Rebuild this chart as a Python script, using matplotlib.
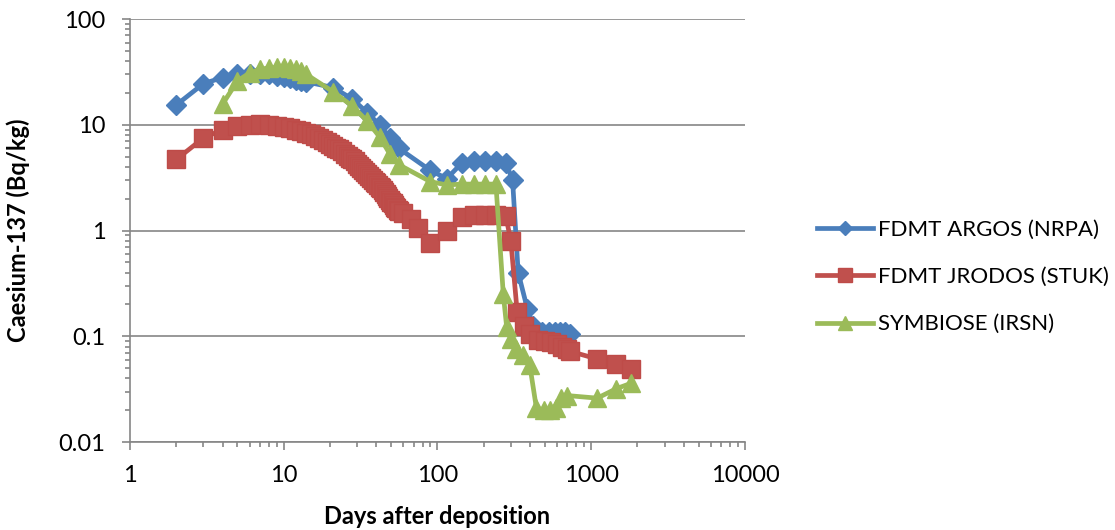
import matplotlib.pyplot as plt
from matplotlib.ticker import LogLocator, NullFormatter, FixedLocator, FixedFormatter

plt.rcParams['font.family'] = ['Lato', 'DejaVu Sans']

# FDMT ARGOS (NRPA)
argos_days = [2, 3, 4, 5, 6, 7, 8, 9, 10, 11, 12, 13, 14, 21, 28, 35, 42, 49, 56,
              90, 115, 145, 172, 204, 240, 278, 308, 335, 385, 420, 480, 530, 580,
              630, 680, 730]
argos_cs = [15.4, 24.5, 28, 30, 30.5, 30.5, 30, 29, 28.5, 27.5, 26.5, 26, 25.5,
            22.5, 17.5, 13, 10, 7.5, 6.0, 3.7, 3.1, 4.4, 4.5, 4.5, 4.5, 4.4, 3.0,
            0.40, 0.18, 0.125, 0.11, 0.11, 0.11, 0.11, 0.11, 0.105]

# FDMT JRODOS (STUK) - daily output for the first two months
jrodos_days = list(range(2, 57)) + [60, 67, 75, 90, 115, 145, 172, 204, 240, 278,
                                    300, 330, 365, 400, 450, 500, 550, 600, 650,
                                    700, 730, 1095, 1460, 1825]
jrodos_cs = [4.7, 7.5, 9.0, 9.7, 10.0, 10.1, 10.0, 9.8, 9.6, 9.3, 9.0, 8.7, 8.4,
             8.1, 7.8, 7.5, 7.2, 6.9, 6.6, 6.35, 6.1, 5.85, 5.6, 5.35, 5.1, 4.9,
             4.7, 4.5, 4.3, 4.1, 3.9, 3.75, 3.6, 3.45, 3.3, 3.15, 3.0, 2.9, 2.8,
             2.7, 2.6, 2.5, 2.4, 2.3, 2.2, 2.12, 2.04, 1.96, 1.88, 1.81, 1.74,
             1.68, 1.62, 1.57, 1.52,
             1.45, 1.28, 1.05, 0.76, 1.0, 1.35, 1.4, 1.4, 1.4, 1.38, 0.8, 0.17,
             0.125, 0.105, 0.092, 0.09, 0.088, 0.085, 0.08, 0.076, 0.072, 0.061,
             0.055, 0.049]

# SYMBIOSE (IRSN)
symb_days = [4, 5, 6, 7, 8, 9, 10, 11, 12, 13, 14, 21, 28, 35, 42, 49, 56, 90, 115,
             145, 172, 204, 240, 268, 282, 300, 326, 358, 398, 440, 490, 540, 590,
             640, 700, 1095, 1460, 1825]
symb_cs = [15.7, 26, 31, 33.5, 34.5, 35, 35, 34.5, 33.5, 32.5, 30, 20.5, 15, 10.8,
           7.7, 5.3, 4.2, 2.9, 2.7, 2.75, 2.75, 2.75, 2.75, 0.25, 0.122, 0.094,
           0.076, 0.066, 0.054, 0.021, 0.020, 0.020, 0.021, 0.026, 0.0275, 0.026,
           0.032, 0.036]

x_ticks = [1, 10, 100, 1000, 10000]
y_ticks = [0.01, 0.1, 1, 10, 100]
y_labels = ['0.01', '0.1', '1', '10', '100']

grey = '#868686'

fig = plt.figure(figsize=(11.15, 5.30), dpi=100)
ax = fig.add_axes([0.1166, 0.166, 0.5515, 0.798])

ax.plot(argos_days, argos_cs, color='#4A7EBB', lw=3.4, marker='D', ms=10,
        mec='#4A7EBB', label='FDMT ARGOS (NRPA)', zorder=3)
ax.plot(jrodos_days, jrodos_cs, color='#C0504D', lw=3.4, marker='s', ms=13,
        mec='#BE4B48', label='FDMT JRODOS (STUK)', zorder=4)
ax.plot(symb_days, symb_cs, color='#9BBB59', lw=3.4, marker='^', ms=13,
        mec='#9BBB59', label='SYMBIOSE (IRSN)', zorder=5)

ax.set_xscale('log')
ax.set_yscale('log')
ax.set_xlim(1, 10000)
ax.set_ylim(0.01, 100)

ax.xaxis.set_major_locator(FixedLocator(x_ticks))
ax.xaxis.set_major_formatter(FixedFormatter([str(v) for v in x_ticks]))
ax.yaxis.set_major_locator(FixedLocator(y_ticks))
ax.yaxis.set_major_formatter(FixedFormatter(y_labels))
ax.xaxis.set_minor_locator(LogLocator(base=10, subs=range(2, 10), numticks=20))
ax.yaxis.set_minor_locator(LogLocator(base=10, subs=range(2, 10), numticks=20))
ax.xaxis.set_minor_formatter(NullFormatter())
ax.yaxis.set_minor_formatter(NullFormatter())

ax.tick_params(which='major', length=5.8, width=1.2, color=grey, labelsize=17,
               direction='out')
ax.tick_params(which='minor', length=3.6, width=1.2, color=grey, direction='out')
ax.tick_params(axis='x', pad=11)
ax.tick_params(axis='y', pad=12)

ax.grid(True, axis='y', which='major', color=grey, lw=1.2)
ax.set_axisbelow(True)
for side in ['top', 'right']:
    ax.spines[side].set_visible(False)
for side in ['left', 'bottom']:
    ax.spines[side].set_color(grey)
    ax.spines[side].set_linewidth(1.2)

ax.set_xlabel('Days after deposition', fontsize=17, fontweight='bold')
ax.set_ylabel('Caesium-137 (Bq/kg)', fontsize=17, fontweight='bold')
ax.xaxis.set_label_coords(0.5, -0.149)
ax.yaxis.set_label_coords(-0.163, 0.5)

ax.legend(loc='center left', bbox_to_anchor=(0.715, 0.477), bbox_transform=fig.transFigure,
          frameon=False, fontsize=16, labelspacing=1.22, handlelength=2.5,
          handletextpad=0.22, markerscale=0.75)

fig.savefig('out.png', dpi=100)
